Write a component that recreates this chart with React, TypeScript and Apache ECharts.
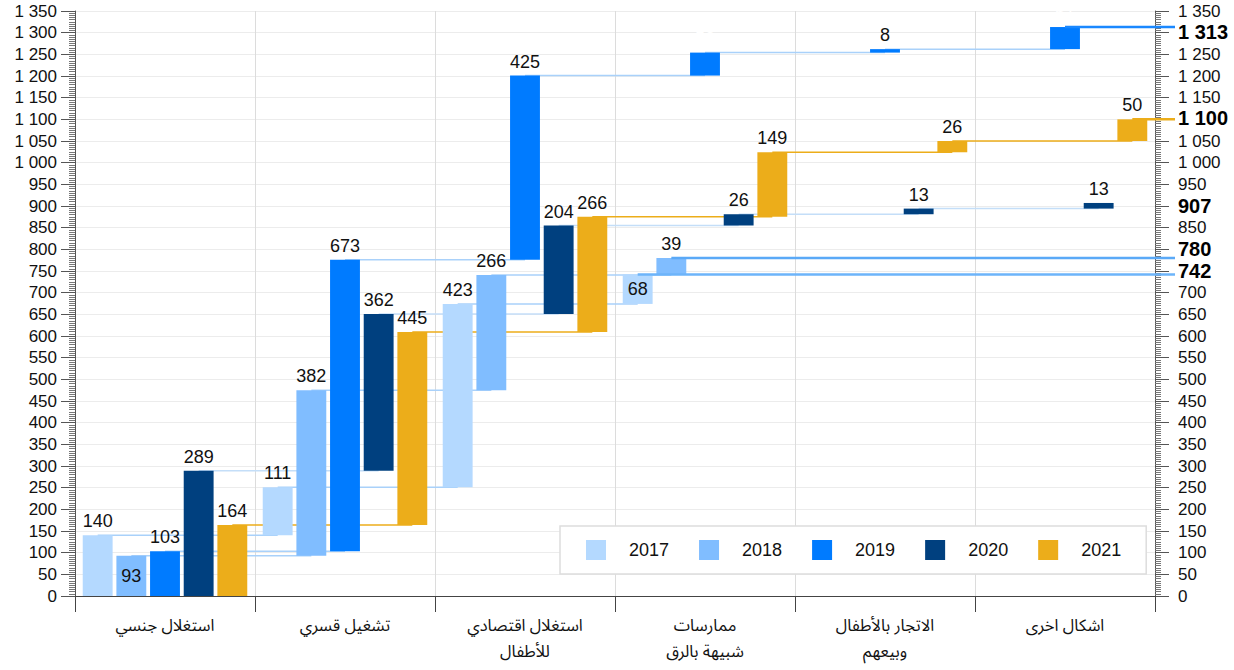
import React, { useEffect, useRef } from 'react';
import * as echarts from 'echarts';

const categories = [
  'استغلال جنسي',
  'تشغيل قسري',
  'استغلال اقتصادي\nللأطفال',
  'ممارسات\nشبيهة بالرق',
  'الاتجار بالأطفال\nوبيعهم',
  'اشكال اخرى',
];
const years = ['2017', '2018', '2019', '2020', '2021'];
const values2017 = [140, 111, 423, 68, 0, 0];
const values2018 = [93, 382, 266, 39, 0, 0];
const values2019 = [103, 673, 425, 53, 8, 51];
const values2020 = [289, 362, 204, 26, 13, 13];
const values2021 = [164, 445, 266, 149, 26, 50];
const yearValues = [values2017, values2018, values2019, values2020, values2021];

const colors = ['#b4d9ff', '#80bdff', '#007bff', '#00407f', '#ecad1a'];
const connectorColors = ['#a9d1fa', '#a9d1fa', '#a9d1fa', '#c4def8', '#ecad1a'];
const totalLineColors = ['#6db4fa', '#5aa9f7', '#1a88ff', '', '#ecad1a'];
// pixel nudges of the bold total labels (to keep them apart)
const totalLabelNudge = [-3, -9, 5, 3, -1];
// [yearIndex, categoryIndex]
const insideLabels = [[0, 3], [1, 0]];
const whiteLabels = [[2, 3], [2, 5]];

const Y_MIN = 0;
const Y_MAX = 1350;
const Y_STEP = 50;

const STEP = 0.187;
const BAR_W = 0.166;
const NUM_FONT = 'Liberation Sans, Arial, sans-serif';

const fmt = (v: number) =>
  v >= 1000 ? `${Math.floor(v / 1000)} ${String(v % 1000).padStart(3, '0')}` : String(v);

const isIn = (list: number[][], yi: number, ci: number) =>
  list.some((p) => p[0] === yi && p[1] === ci);

export default function App() {
  const ref = useRef<HTMLDivElement>(null);

  useEffect(() => {
    if (!ref.current) return;
    const chart = echarts.init(ref.current, undefined, { renderer: 'svg' });

    const totals = yearValues.map((vals) => vals.reduce((a, b) => a + b, 0));

    const barSeries = yearValues.map((vals, yi) => {
      let cum = 0;
      const data: number[][] = [];
      vals.forEach((v, ci) => {
        if (v > 0) {
          data.push([ci, cum, cum + v, v]);
          cum += v;
        }
      });
      return {
        type: 'custom',
        name: years[yi],
        itemStyle: { color: colors[yi] },
        z: 5,
        encode: { x: 0, y: [1, 2] },
        data,
        renderItem: (params: any, api: any) => {
          const ci = api.value(0);
          const start = api.value(1);
          const end = api.value(2);
          const v = api.value(3);
          const band = api.size([1, 0])[0];
          const cx = api.coord([ci, 0])[0] + (yi - 2) * band * STEP;
          const bw = band * BAR_W;
          const top = api.coord([ci, end])[1];
          const bot = api.coord([ci, start])[1];
          const inside = isIn(insideLabels, yi, ci);
          const white = isIn(whiteLabels, yi, ci);
          return {
            type: 'group',
            children: [
              {
                type: 'rect',
                shape: { x: cx - bw / 2, y: top, width: bw, height: bot - top },
                style: { fill: colors[yi] },
              },
              {
                type: 'text',
                z2: 20,
                style: {
                  text: fmt(v),
                  x: cx,
                  y: inside ? (top + bot) / 2 : top - 5,
                  align: 'center',
                  verticalAlign: inside ? 'middle' : 'bottom',
                  fill: white ? '#ffffff' : '#111111',
                  fontSize: 18,
                  fontFamily: NUM_FONT,
                },
              },
            ],
          };
        },
      };
    });

    const connectorData: number[][] = [];
    yearValues.forEach((vals, yi) => {
      let cum = 0;
      let prev = -1;
      vals.forEach((v, ci) => {
        if (v > 0) {
          if (prev >= 0) connectorData.push([prev, ci, cum, yi]);
          cum += v;
          prev = ci;
        }
      });
    });

    const connectorSeries = {
      type: 'custom',
      name: 'connectors',
      z: 2,
      silent: true,
      encode: { x: 0, y: 2 },
      data: connectorData,
      renderItem: (params: any, api: any) => {
        const from = api.value(0);
        const to = api.value(1);
        const level = api.value(2);
        const yi = api.value(3);
        const band = api.size([1, 0])[0];
        const p1 = api.coord([from, level]);
        const p2 = api.coord([to, level]);
        const x1 = p1[0] + (yi - 2) * band * STEP;
        const x2 = p2[0] + (yi - 2) * band * STEP;
        return {
          type: 'line',
          shape: { x1, y1: p1[1], x2, y2: p1[1] },
          style: { stroke: connectorColors[yi], lineWidth: 1.5 },
        };
      },
    };

    const totalData = yearValues.map((vals, yi) => {
      let last = 0;
      vals.forEach((v, ci) => {
        if (v > 0) last = ci;
      });
      return [last, totals[yi], yi];
    });

    const totalSeries = {
      type: 'custom',
      name: 'totals',
      z: 6,
      silent: true,
      encode: { x: 0, y: 1 },
      data: totalData,
      renderItem: (params: any, api: any) => {
        const ci = api.value(0);
        const level = api.value(1);
        const yi = api.value(2);
        const band = api.size([1, 0])[0];
        const cs = params.coordSys;
        const p = api.coord([ci, level]);
        const x1 = p[0] + (yi - 2) * band * STEP;
        const children: any[] = [
          {
            type: 'text',
            style: {
              text: fmt(level),
              x: cs.x + cs.width + 23,
              y: p[1] + totalLabelNudge[yi],
              align: 'left',
              verticalAlign: 'middle',
              fill: '#000',
              fontSize: 20,
              fontWeight: 'bold',
              fontFamily: NUM_FONT,
            },
          },
        ];
        if (totalLineColors[yi]) {
          children.push({
            type: 'line',
            shape: { x1, y1: p[1], x2: cs.x + cs.width + 20, y2: p[1] },
            style: { stroke: totalLineColors[yi], lineWidth: 2.5 },
          });
        }
        return { type: 'group', children };
      },
    };

    const yAxisBase = {
      type: 'value',
      min: Y_MIN,
      max: Y_MAX,
      interval: Y_STEP,
      axisLine: { show: true, lineStyle: { color: '#555', width: 1 } },
      axisTick: { show: true, length: 14, lineStyle: { color: '#555' } },
      minorTick: { show: true, splitNumber: 10, length: 6, lineStyle: { color: '#777' } },
      axisLabel: {
        fontSize: 17,
        color: '#111',
        fontFamily: NUM_FONT,
        margin: 18,
      },
    };

    chart.setOption({
      animation: false,
      backgroundColor: '#ffffff',
      grid: { left: 75, right: 79, top: 11, bottom: 74, containLabel: false },
      legend: {
        data: years,
        left: 560,
        top: 526,
        padding: [14, 25, 14, 26],
        itemGap: 30,
        itemWidth: 20,
        itemHeight: 20,
        icon: 'rect',
        borderColor: '#dddddd',
        borderWidth: 1.5,
        backgroundColor: '#ffffff',
        selectedMode: false,
        textStyle: {
          fontSize: 18,
          color: '#111',
          fontFamily: NUM_FONT,
          padding: [0, 0, 0, 18],
        },
      },
      xAxis: {
        type: 'category',
        data: categories,
        axisLine: { show: true, lineStyle: { color: '#444' } },
        axisTick: { show: true, interval: 0, length: 16, lineStyle: { color: '#444' } },
        splitLine: { show: true, interval: 0, lineStyle: { color: '#dcdcdc' } },
        axisLabel: {
          interval: 0,
          fontSize: 16.5,
          lineHeight: 26,
          color: '#111',
          margin: 16,
          fontFamily: 'Noto Sans Arabic, Noto Naskh Arabic, DejaVu Sans, sans-serif',
        },
      },
      yAxis: [
        {
          ...yAxisBase,
          position: 'left',
          splitLine: { show: true, lineStyle: { color: '#ececec' } },
          axisLabel: { ...yAxisBase.axisLabel, formatter: (v: number) => fmt(v) },
        },
        {
          ...yAxisBase,
          position: 'right',
          splitLine: { show: false },
          axisLabel: {
            ...yAxisBase.axisLabel,
            margin: 23,
            formatter: (v: number) =>
              totals.some((t) => Math.abs(t - v) < 25) ? '' : fmt(v),
          },
        },
      ],
      series: [connectorSeries, ...barSeries, totalSeries],
    });

    return () => chart.dispose();
  }, []);

  return (
    <div
      ref={ref}
      style={{ position: 'fixed', left: 0, top: 0, width: 1234, height: 670 }}
    />
  );
}
